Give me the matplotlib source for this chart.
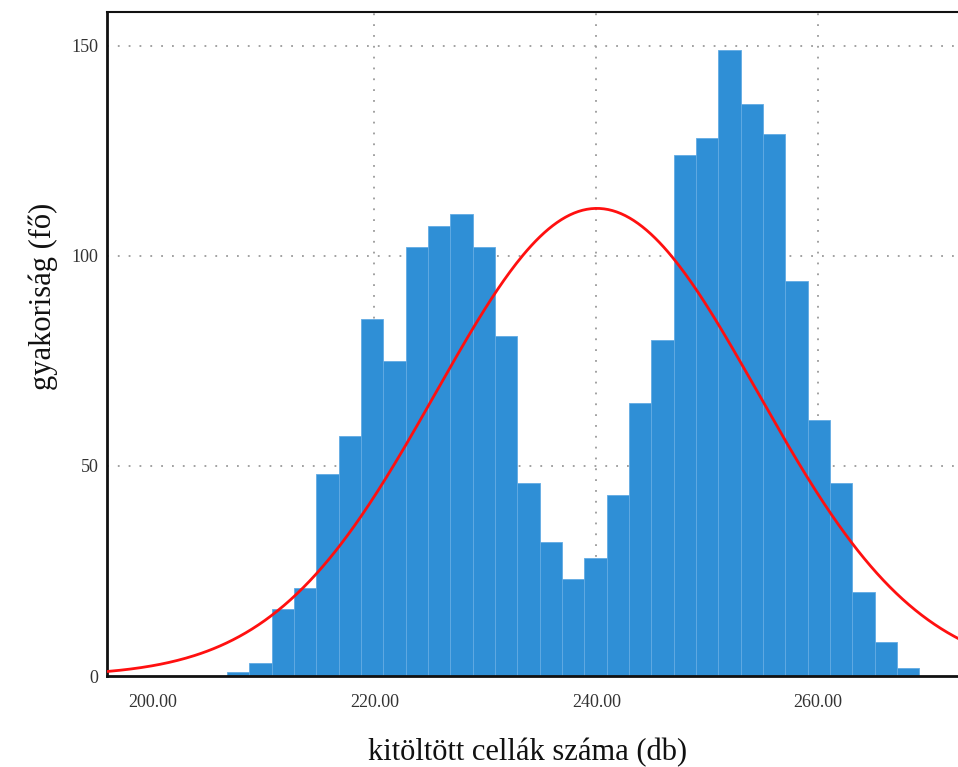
import numpy as np
import matplotlib
matplotlib.use("Agg")
import matplotlib.pyplot as plt

# Histogram data (31 bins of equal width)
bin_start = 206.7
bin_width = 2.013
counts = [1, 3, 16, 21, 48, 57, 85, 75, 102, 107, 110, 102, 81, 46, 32, 23,
          28, 43, 65, 80, 124, 128, 149, 136, 129, 94, 61, 46, 20, 8, 2]

# Fitted normal curve parameters
fit_mean = 240.05
fit_sd = 14.5
curve_bin_width = 2.0

x_ticks = [200, 220, 240, 260]
x_tick_labels = ["200.00", "220.00", "240.00", "260.00"]
y_ticks = [0, 50, 100, 150]
y_tick_labels = ["0", "50", "100", "150"]

x_label = "kitöltött cellák száma (db)"
y_label = "gyakoriság (fő)"

plt.rcParams['font.family'] = ['Liberation Serif', 'DejaVu Serif']

fig = plt.figure(figsize=(9.58, 7.67), dpi=100)
ax = fig.add_axes([0.1117, 0.1186, 0.8883, 0.8658])

edges = bin_start + bin_width * np.arange(len(counts) + 1)
ax.hist(edges[:-1] + bin_width / 2, bins=edges, weights=counts, color="#2f8fd6",
        edgecolor="#62abe3", linewidth=0.6, zorder=2)

n_total = sum(counts)
xmin, xmax = 195.9, 272.6
xs = np.linspace(xmin, xmax, 400)
ys = n_total * curve_bin_width / (fit_sd * np.sqrt(2 * np.pi)) * np.exp(-0.5 * ((xs - fit_mean) / fit_sd) ** 2)
ax.plot(xs, ys, color="#ff1010", linewidth=2.0, zorder=3)

ax.set_xlim(xmin, xmax)
ax.set_ylim(0, 158)

for xv in x_ticks[1:]:
    ax.axvline(xv, color="#9a9a9a", linestyle=(0, (1, 5)), linewidth=1.3, zorder=1)
for yv in y_ticks[1:]:
    ax.axhline(yv, color="#9a9a9a", linestyle=(0, (1, 5)), linewidth=1.3, zorder=1)

ax.set_xticks(x_ticks)
ax.set_xticklabels(x_tick_labels)
ax.set_yticks(y_ticks)
ax.set_yticklabels(y_tick_labels)
ax.tick_params(axis='both', length=0, labelsize=13, colors="#333333")
ax.tick_params(axis='x', pad=13)
ax.tick_params(axis='y', pad=6)

ax.spines['right'].set_visible(False)
ax.spines['left'].set_linewidth(2.0)
ax.spines['bottom'].set_linewidth(2.0)
ax.spines['top'].set_linewidth(1.5)
for s in ['left', 'bottom', 'top']:
    ax.spines[s].set_color("#111111")

ax.set_xlabel(x_label, fontsize=22, color="#111111")
ax.xaxis.set_label_coords(0.4947, -0.093)
ax.set_ylabel(y_label, fontsize=22, color="#111111")
ax.yaxis.set_label_coords(-0.058, 0.571)

fig.savefig("out.png", dpi=100)
